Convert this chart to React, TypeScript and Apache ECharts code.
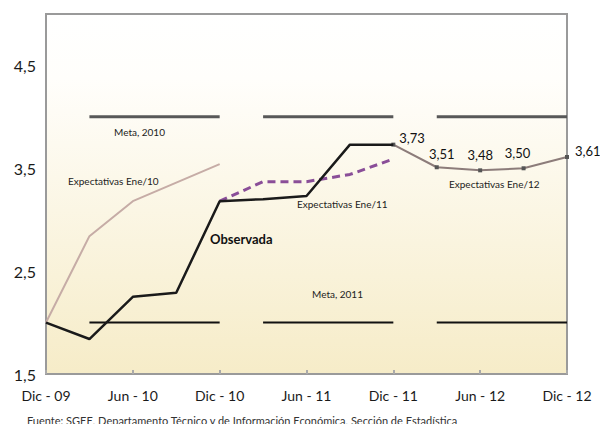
import React, { useEffect, useRef } from "react";
import * as echarts from "echarts";

const categories = [
  "Dic - 09", "Mar - 10", "Jun - 10", "Sep - 10", "Dic - 10", "Mar - 11", "Jun - 11",
  "Sep - 11", "Dic - 11", "Mar - 12", "Jun - 12", "Sep - 12", "Dic - 12",
];
const observada = [2.0, 1.84, 2.25, 2.29, 3.18, 3.2, 3.23, 3.73, 3.73, null, null, null, null];
const expEne10 = [2.0, 2.84, 3.18, 3.36, 3.54, null, null, null, null, null, null, null, null];
const expEne11 = [null, null, null, null, 3.18, 3.37, 3.37, 3.44, 3.59, null, null, null, null];
const expEne12 = [null, null, null, null, null, null, null, null, 3.73, 3.51, 3.48, 3.5, 3.61];
const meta2010 = 4.0;
const meta2011 = 2.0;
const metaSegments: [number, number][] = [[1, 4], [5, 8], [9, 12]];
const yTickLabels = [1.5, 2.5, 3.5, 4.5];

const FONT = "Lato, 'Open Sans', sans-serif";

const labelOffsets: Record<number, { position: string; offset: number[] }> = {
  8: { position: "right", offset: [-1, -7] },
  9: { position: "top", offset: [5, 0] },
  10: { position: "top", offset: [0, -2] },
  11: { position: "top", offset: [-6, -2] },
  12: { position: "right", offset: [1, -6] },
};

function fmt(v: number) {
  return v.toFixed(2).replace(".", ",");
}

export default function App() {
  const ref = useRef<HTMLDivElement>(null);
  useEffect(() => {
    if (!ref.current) return;
    const chart = echarts.init(ref.current, undefined, { renderer: "svg" });

    const metaSeries: any[] = [];
    [
      { v: meta2010, color: "#585858", width: 3 },
      { v: meta2011, color: "#111111", width: 2 },
    ].forEach((m) => {
      metaSegments.forEach(([s, e]) => {
        metaSeries.push({
          type: "line",
          data: categories.map((_, i) => (i >= s && i <= e ? m.v : null)),
          showSymbol: false,
          lineStyle: { color: m.color, width: m.width },
          z: 2,
          silent: true,
        });
      });
    });

    chart.setOption({
      animation: false,
      textStyle: { fontFamily: FONT },
      grid: {
        left: 46,
        top: 14,
        right: 33,
        bottom: 50,
        show: true,
        borderColor: "#9a9a9a",
        borderWidth: 2,
        backgroundColor: {
          type: "linear",
          x: 0, y: 0, x2: 0, y2: 1,
          colorStops: [
            { offset: 0, color: "#ffffff" },
            { offset: 0.18, color: "#fffefb" },
            { offset: 1, color: "#f6ecc8" },
          ],
        },
      },
      xAxis: {
        type: "category",
        data: categories,
        boundaryGap: false,
        axisLine: { show: false },
        axisTick: { show: true, inside: true, length: 4, interval: 1, lineStyle: { color: "#aaaaaa", width: 2 } },
        axisLabel: { interval: 1, fontSize: 14, color: "#1a1a1a", margin: 14, fontFamily: FONT },
        splitLine: { show: false },
      },
      yAxis: {
        type: "value",
        min: 1.5,
        max: 5,
        interval: 0.5,
        axisLine: { show: false },
        axisTick: { show: false },
        splitLine: { show: false },
        axisLabel: {
          fontSize: 16,
          color: "#1a1a1a",
          margin: 10,
          fontFamily: FONT,
          formatter: (v: number) =>
            yTickLabels.some((t) => Math.abs(t - v) < 1e-6) ? v.toFixed(1).replace(".", ",") : "",
        },
      },
      series: [
        ...metaSeries,
        {
          type: "line",
          data: expEne10,
          showSymbol: false,
          lineStyle: { color: "#c6aca6", width: 2 },
          z: 3,
        },
        {
          type: "line",
          data: expEne11,
          showSymbol: false,
          lineStyle: { color: "#8a4e98", width: 3, type: [8, 5] },
          z: 4,
        },
        {
          type: "line",
          data: expEne12.map((v, i) =>
            v === null
              ? null
              : {
                  value: v,
                  label: {
                    show: true,
                    position: labelOffsets[i].position,
                    offset: labelOffsets[i].offset,
                    formatter: () => fmt(v),
                    fontSize: 13,
                    color: "#111111",
                    fontFamily: FONT,
                  },
                }
          ),
          showSymbol: true,
          symbol: "rect",
          symbolSize: 4,
          itemStyle: { color: "#555555" },
          lineStyle: { color: "#8c7c7a", width: 2 },
          z: 4,
        },
        {
          type: "line",
          data: observada,
          showSymbol: false,
          lineStyle: { color: "#1a1a1a", width: 2.5 },
          z: 5,
        },
      ],
      graphic: [
        { type: "text", left: 114, top: 127, style: { text: "Meta, 2010", fontSize: 10, fill: "#222", fontFamily: FONT } },
        { type: "text", left: 68, top: 176, style: { text: "Expectativas Ene/10", fontSize: 10, fill: "#222", fontFamily: FONT } },
        { type: "text", left: 210, top: 232, style: { text: "Observada", fontSize: 13, fontWeight: "bold", fill: "#111", fontFamily: FONT } },
        { type: "text", left: 297, top: 199, style: { text: "Expectativas Ene/11", fontSize: 10, fill: "#222", fontFamily: FONT } },
        { type: "text", left: 449, top: 179, style: { text: "Expectativas Ene/12", fontSize: 10, fill: "#222", fontFamily: FONT } },
        { type: "text", left: 312, top: 289, style: { text: "Meta, 2011", fontSize: 10, fill: "#222", fontFamily: FONT } },
        {
          type: "text",
          left: 27,
          top: 415,
          style: {
            text: "Fuente: SGEE, Departamento Técnico y de Información Económica, Sección de Estadística",
            fontSize: 11,
            fill: "#333",
            fontFamily: FONT,
          },
        },
      ],
    });
    return () => chart.dispose();
  }, []);
  return <div ref={ref} style={{ width: 600, height: 424, position: "absolute", left: 0, top: 0 }} />;
}
